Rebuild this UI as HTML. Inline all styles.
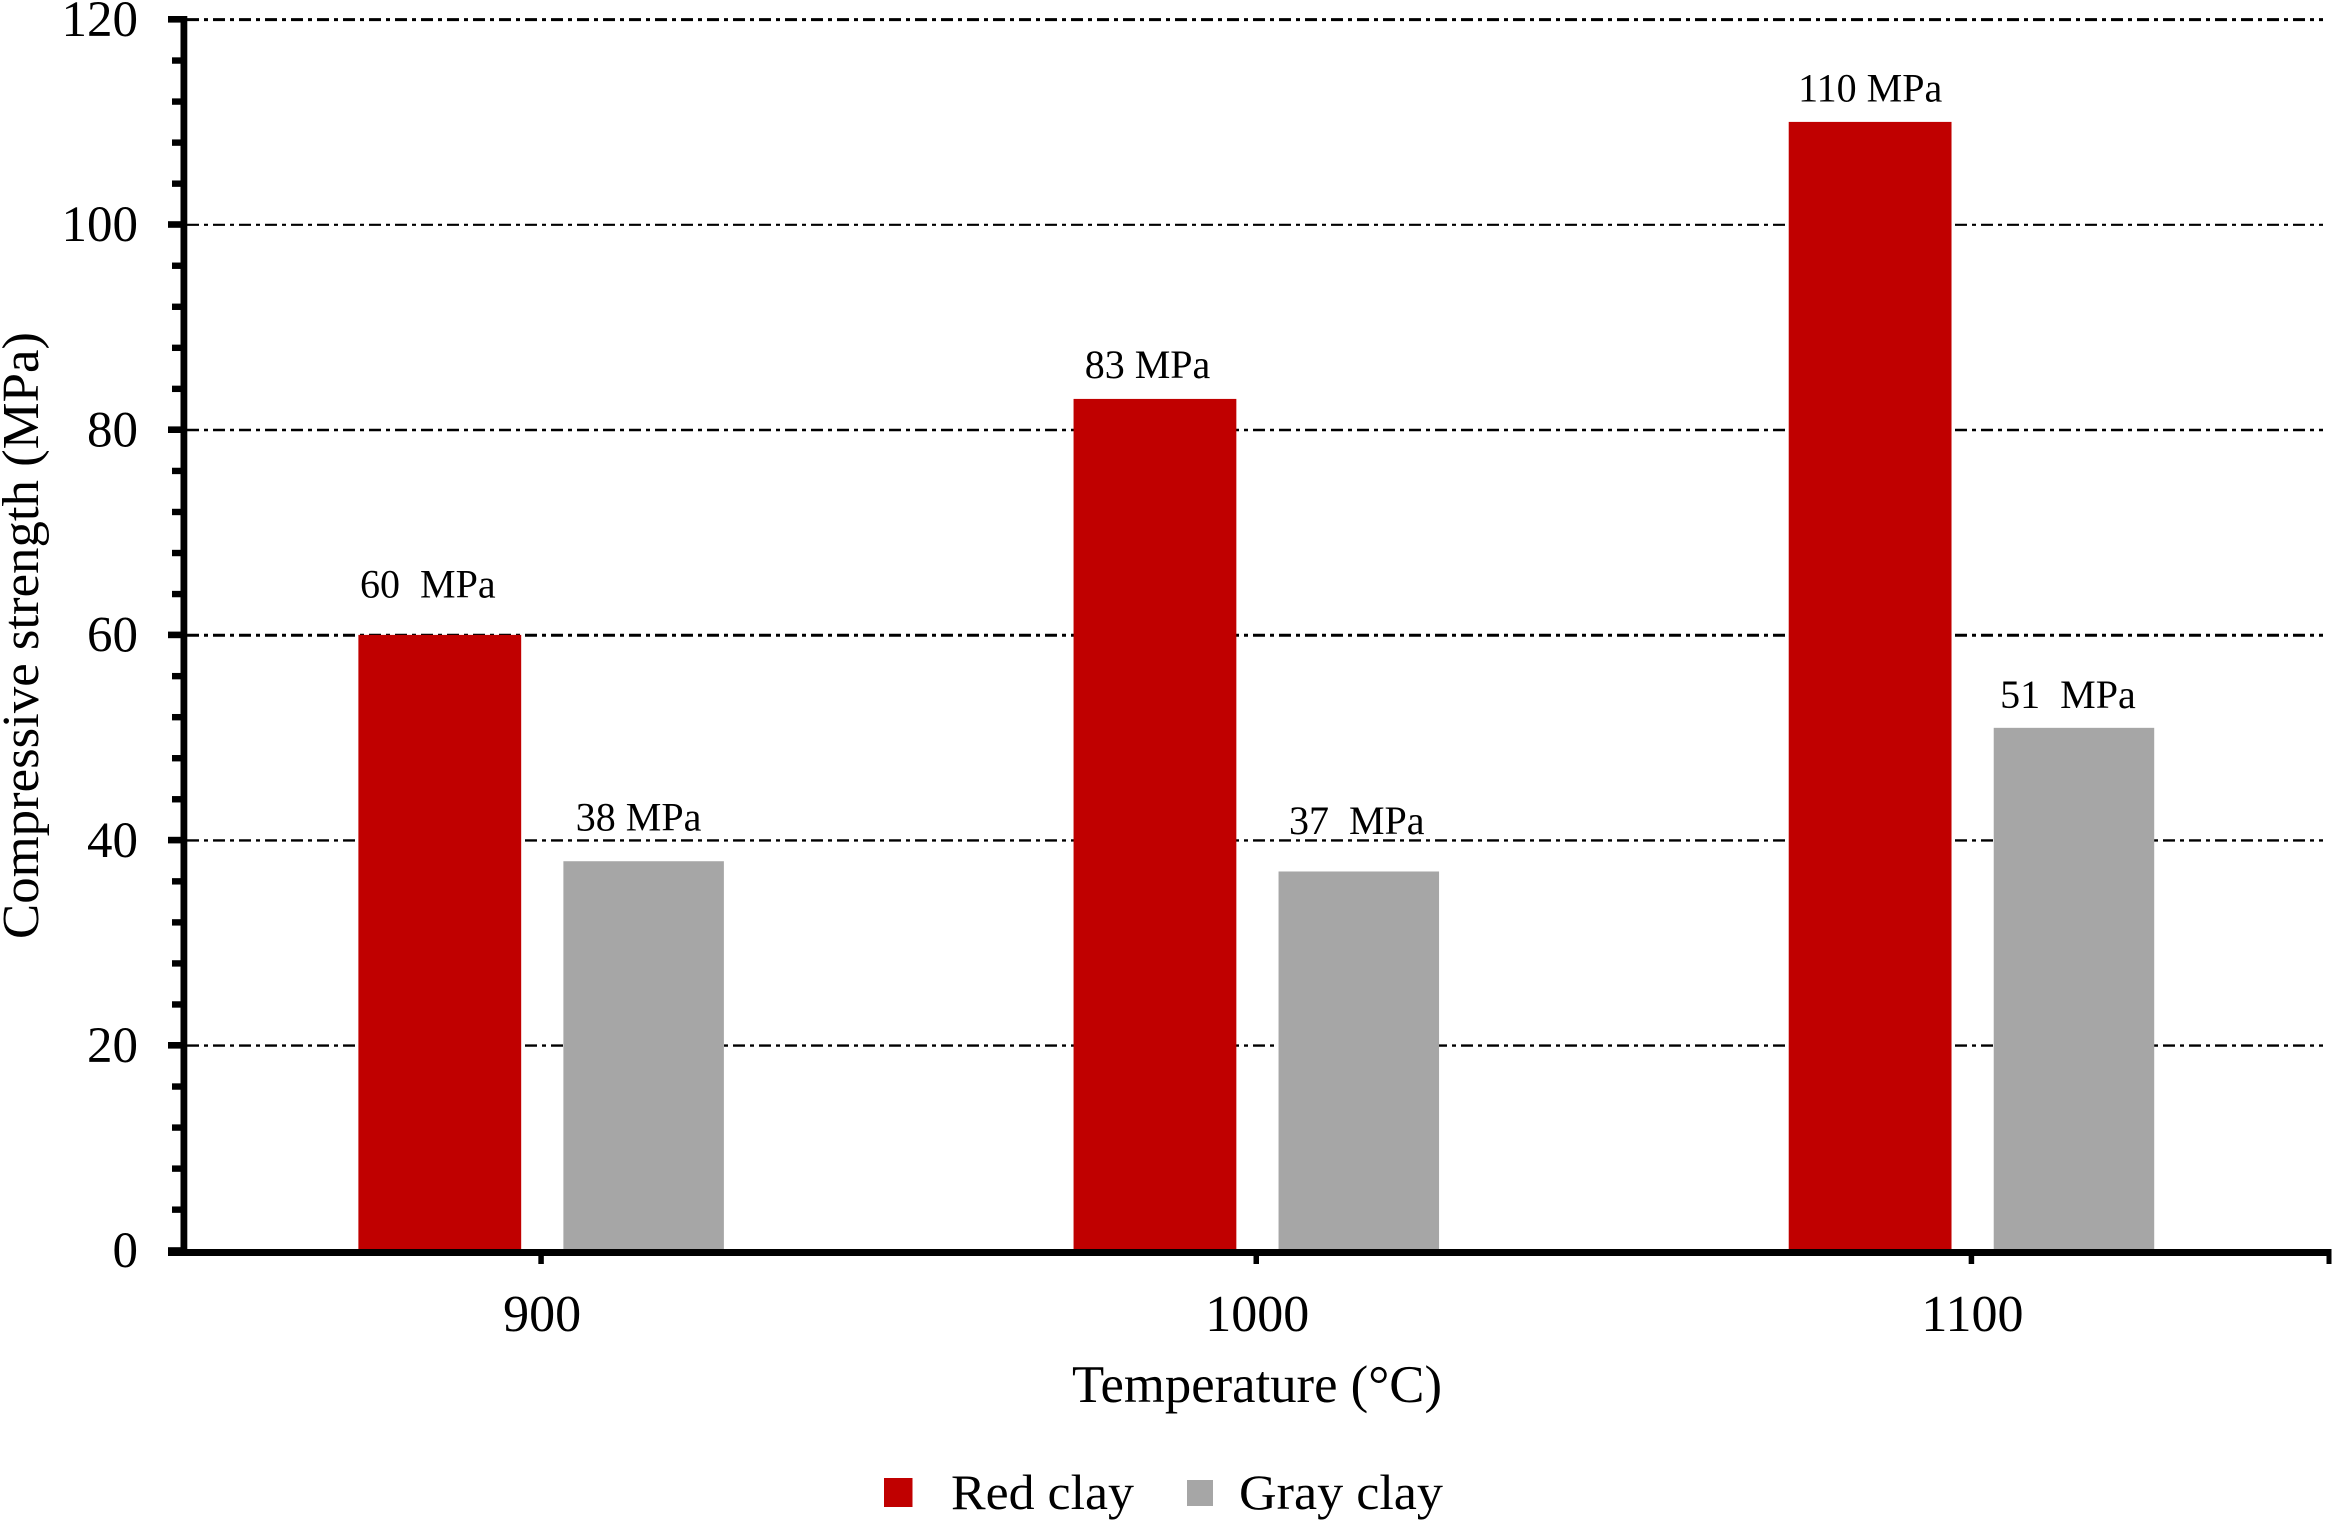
<!DOCTYPE html>
<html lang="en">
<head>
<meta charset="utf-8">
<title>Compressive strength by temperature</title>
<style>
html,body{margin:0;padding:0;background:#fff;width:2333px;height:1522px;overflow:hidden}
svg{display:block}
text{font-family:"Liberation Serif","Times New Roman",serif;fill:#000;white-space:pre}
</style>
</head>
<body>
<svg id="chart" xmlns="http://www.w3.org/2000/svg" width="2333" height="1522" viewBox="0 0 2333 1522">
  <rect x="0" y="0" width="2333" height="1522" fill="#ffffff"/>
  <g id="grid"></g>
  <g id="bars"></g>
  <g id="axes"></g>
  <g id="labels"></g>
  <text transform="translate(38 939) rotate(-90)" font-size="52" textLength="607" lengthAdjust="spacingAndGlyphs">Compressive strength (MPa)</text>
  <text x="1072" y="1402" font-size="53" textLength="370" lengthAdjust="spacingAndGlyphs">Temperature (°C)</text>
  <g>
    <rect x="884" y="1478" width="28.5" height="29" fill="#C00000"/>
    <text x="951" y="1509" font-size="50" textLength="183" lengthAdjust="spacingAndGlyphs">Red clay</text>
    <rect x="1187" y="1480" width="26" height="26" fill="#A6A6A6"/>
    <text x="1239" y="1509" font-size="50" textLength="204" lengthAdjust="spacingAndGlyphs">Gray clay</text>
  </g>
</svg>
<script>
const categories = ['900', '1000', '1100'];
const redClayValues = [60, 83, 110];
const grayClayValues = [38, 37, 51];
const redClayLabels = ['60  MPa', '83 MPa', '110 MPa'];
const grayClayLabels = ['38 MPa', '37  MPa', '51  MPa'];
const yTickValues = [0, 20, 40, 60, 80, 100, 120];
const yMinorStep = 4;
const yMax = 120;

/* layout only */
const plot = {left: 183.5, right: 2329, zeroY: 1250.5, topY: 19.3};
const redNudgeX = [-11.5, -7, 0.5];
const redNudgeY = [37.5, 21, 20.5];
const grayNudgeX = [-4.5, -1.5, -5.5];
const grayNudgeY = [30, 37, 19];
const gridWidths = {20: 2.4, 40: 2.4, 60: 3, 80: 2.6, 100: 2.2, 120: 3};

function yScale(v) { return plot.zeroY - (plot.zeroY - plot.topY) * v / yMax; }
function xScale(i) { return plot.left + (plot.right - plot.left) * (i + 0.5) / categories.length; }

const NS = 'http://www.w3.org/2000/svg';
function make(tag, parent, props, text) {
  const node = document.createElementNS(NS, tag);
  for (const k in props) node.setAttribute(k, props[k]);
  if (text !== undefined) node.textContent = text;
  parent.appendChild(node);
  return node;
}
const gridG = document.getElementById('grid');
const barsG = document.getElementById('bars');
const axesG = document.getElementById('axes');
const labelsG = document.getElementById('labels');

yTickValues.forEach(function (v) {
  if (v === 0) return;
  const line = make('line', gridG, {x1: 187, x2: 2323, y1: yScale(v) + 0.3, y2: yScale(v) + 0.3, stroke: '#000', 'stroke-width': gridWidths[v], 'stroke-dasharray': '12 5 4 5'});
  
  
});

categories.forEach(function (cat, i) {
  const c = xScale(i);
  const redBar = make('rect', barsG, {x: c - 182.7, y: yScale(redClayValues[i]), width: 162.8, height: plot.zeroY - yScale(redClayValues[i]), fill: '#C00000'});
  
  
  const grayBar = make('rect', barsG, {x: c + 22.3, y: yScale(grayClayValues[i]) + 0.6, width: 160.5, height: plot.zeroY - yScale(grayClayValues[i]) - 0.6, fill: '#A6A6A6'});
  
  

  const redLabel = make('text', labelsG, {x: c - 101.75 + redNudgeX[i], y: yScale(redClayValues[i]) - redNudgeY[i], 'font-size': 40, 'text-anchor': 'middle'}, redClayLabels[i]);
  
  
  const grayLabel = make('text', labelsG, {x: c + 102 + grayNudgeX[i], y: yScale(grayClayValues[i]) - grayNudgeY[i], 'font-size': 40, 'text-anchor': 'middle'}, grayClayLabels[i]);
  
  

  const xTick = make('rect', axesG, {x: c - 2.75, y: 1250, width: 5.5, height: 14, fill: '#000'});
  
  
  const xLabel = make('text', axesG, {x: c + 1, y: 1331, 'font-size': 52, 'text-anchor': 'middle'}, cat);
  
  
});

for (let v = yMinorStep; v < yMax; v += yMinorStep) {
  if (yTickValues.indexOf(v) !== -1) continue;
  const minorTick = make('rect', axesG, {x: 172, y: yScale(v) - 3, width: 12, height: 6.4, fill: '#000'});
  
  
}
yTickValues.forEach(function (v) {
  const majorTick = make('rect', axesG, {x: 168, y: yScale(v) - 3.3, width: 16, height: 6.6, fill: '#000'});
  
  
  const yLabel = make('text', axesG, {x: 138, y: yScale(v) + 16.7, 'font-size': 51, 'text-anchor': 'end'}, String(v));
  
  
});

const yAxis = make('rect', axesG, {x: 180.5, y: 16, width: 6.8, height: 1240, fill: '#000'});


const xAxis = make('rect', axesG, {x: 168, y: 1249, width: 2163, height: 7, fill: '#000'});


const xEnd = make('rect', axesG, {x: 2326.5, y: 1249, width: 5, height: 15, fill: '#000'});


</script>
</body>
</html>
